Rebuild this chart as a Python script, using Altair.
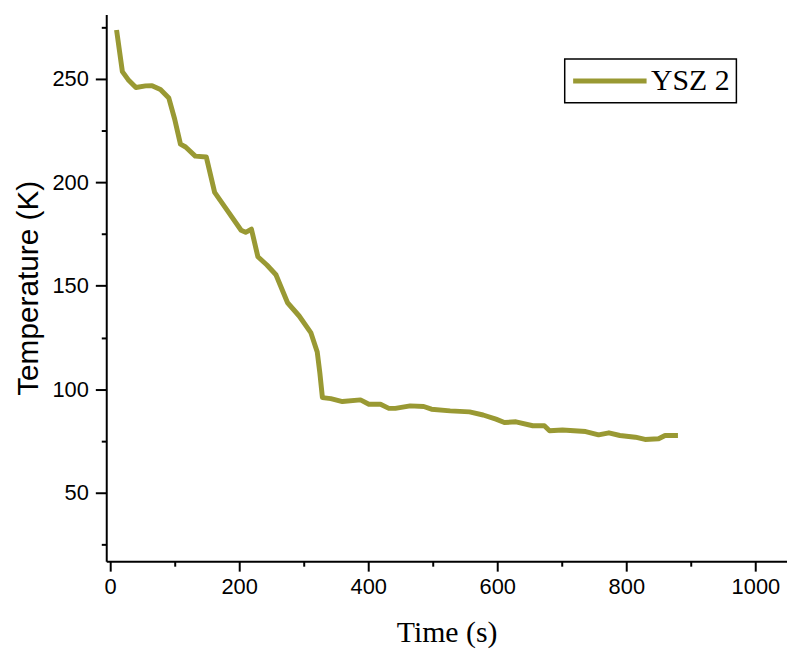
import altair as alt
import pandas as pd

time_s = [10, 19, 28, 40, 55, 65, 78, 91, 100, 109, 117, 132, 149, 162, 178,
          203, 210, 219, 229, 243, 257, 275, 293, 311, 321, 325, 329, 342, 360,
          388, 401, 419, 432, 442, 465, 486, 498, 527, 557, 578, 598, 611, 629,
          655, 673, 681, 701, 737, 757, 773, 790, 814, 829, 850, 860, 880]
temp_k = [273.5, 253.4, 249.5, 245.7, 246.5, 246.6, 244.7, 240.6, 230.5, 218.4,
          217.0, 212.6, 212.2, 195.1, 188.0, 176.8, 175.8, 177.3, 164.0, 160.0,
          155.3, 141.8, 135.4, 127.4, 118.0, 108.0, 96.0, 95.5, 94.1, 94.9, 92.8,
          92.8, 90.8, 90.8, 92.0, 91.7, 90.4, 89.6, 89.1, 87.6, 85.6, 84.0, 84.3,
          82.4, 82.4, 80.0, 80.4, 79.6, 78.0, 79.0, 77.7, 76.9, 75.8, 76.1, 77.7,
          77.7]
series_name = "YSZ 2"
line_color = "#999933"

x_ticks = list(range(0, 1001, 100))
y_ticks = list(range(25, 276, 25))

df = pd.DataFrame({"Time": time_s, "Temp": temp_k, "series": series_name})

x_axis = alt.Axis(
    title="Time (s)", values=x_ticks, format="d",
    labelExpr="datum.value % 200 === 0 ? datum.label : ''",
    tickSize={"condition": {"test": "datum.value % 200 === 0", "value": 10}, "value": 5},
    titleFont="Liberation Serif", titleFontSize=30, titleFontWeight="normal",
    titlePadding=20, labelFont="Liberation Sans", labelFontSize=22,
    labelPadding=6, labelFlush=False, labelOverlap=False,
    domainColor="black", domainWidth=2, tickColor="black", tickWidth=2,
    labelColor="black", titleColor="black", grid=False,
)
y_axis = alt.Axis(
    title="Temperature (K)", values=y_ticks, format="d",
    labelExpr="datum.value % 50 === 0 ? datum.label : ''",
    tickSize={"condition": {"test": "datum.value % 50 === 0", "value": 11}, "value": 5},
    titleFont="Liberation Sans", titleFontSize=30, titleFontWeight="normal",
    titlePadding=9, labelFont="Liberation Sans", labelFontSize=22,
    labelPadding=7, labelFlush=False, labelOverlap=False,
    domainColor="black", domainWidth=2, tickColor="black", tickWidth=2,
    labelColor="black", titleColor="black", grid=False,
)

chart = alt.Chart(df).mark_line(strokeWidth=5, strokeJoin="round", strokeCap="butt").encode(
    x=alt.X("Time:Q", scale=alt.Scale(domain=[-6, 1049], nice=False, zero=False), axis=x_axis),
    y=alt.Y("Temp:Q", scale=alt.Scale(domain=[17, 281], nice=False, zero=False), axis=y_axis),
    color=alt.Color("series:N", scale=alt.Scale(range=[line_color]),
                    legend=alt.Legend(
                        title=None, orient="none", legendX=462, legendY=45,
                        symbolType="stroke", symbolSize=5476, symbolStrokeWidth=5,
                        clipHeight=32,
                        labelFont="Liberation Serif", labelFontSize=30, labelColor="black",
                        labelOffset=2, padding=6, strokeColor="black", fillColor="white",
                    )),
).properties(
    width=686, height=551,
    autosize=alt.AutoSizeParams(type="none"),
    padding={"left": 99, "top": 4, "right": 0, "bottom": 90},
).configure_view(stroke=None).configure_legend(strokeWidth=1.5, cornerRadius=0)

chart.save("out.html", embed_options={"renderer": "svg", "actions": False})
